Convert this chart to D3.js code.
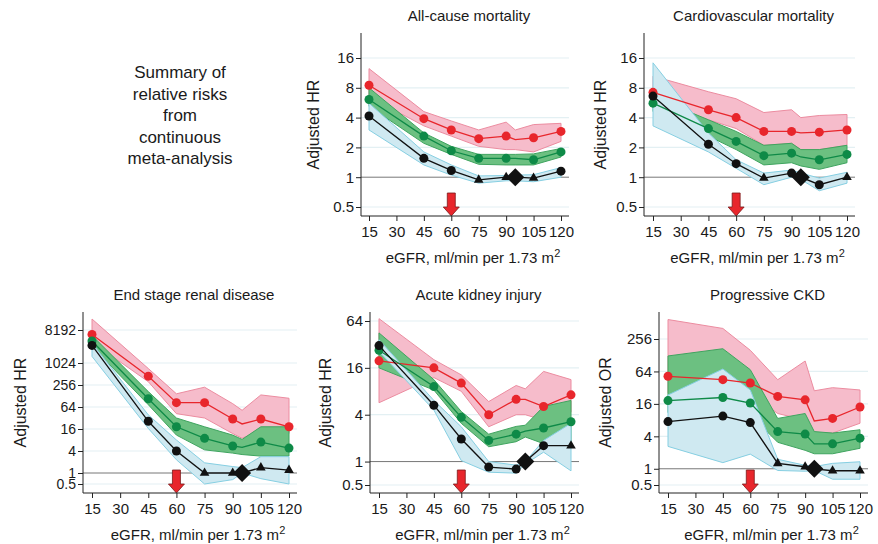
<!DOCTYPE html>
<html><head><meta charset="utf-8">
<script src="https://cdn.jsdelivr.net/npm/d3@7"></script>
<style>body{margin:0;background:#fff}text{font-family:"Liberation Sans",Arial,sans-serif;fill:#1a1a1a}</style>
</head><body><svg id="c" width="878" height="544"></svg>
<script>
// eGFR categories (95 = reference, drawn as diamond)
var egfr = [15, 45, 60, 75, 90, 95, 105, 120];
var xTicks = [15, 30, 45, 60, 75, 90, 105, 120];
var titles = ["All-cause mortality", "Cardiovascular mortality", "End stage renal disease", "Acute kidney injury", "Progressive CKD"];
var yLabels = ["Adjusted HR", "Adjusted HR", "Adjusted HR", "Adjusted HR", "Adjusted OR"];
var yTicks = [[0.5,1,2,4,8,16],[0.5,1,2,4,8,16],[0.5,1,4,16,64,256,1024,8192],[0.5,1,4,16,64],[0.5,1,4,16,64,256]];

// red series (estimate, upper, lower)
var red = [[8.5,3.9,3.0,2.45,2.6,2.4,2.5,2.9],[7.2,4.8,4.0,2.9,2.9,2.8,2.85,3.0],[6208,446,84,84,30,22,30,18.4],[19.7,16,10.2,4,6.3,6.3,5.1,7.2],[52,45,39,22,19,7.7,8.6,14]];
var redHi = [[12.5,4.6,3.7,3.0,3.6,3.0,3.4,3.5],[10.5,7.3,6.2,4.5,4.8,4.0,4.2,4.3],[16384,724,147,223,79,52,137,111],[68.6,20.4,13,5.9,9.5,8.6,14.4,11.3],[588,402,158,45,100,28,32,29]];
var redLo = [[6.5,3.3,2.6,2.05,1.9,1.9,1.8,2.3],[5.0,3.8,3.1,2.1,2.2,1.9,1.9,2.1],[3822,315,42,32,12,8.9,15,12],[5.7,12,8,2.8,4,4,3.4,4.3],[25,29,25,10.6,8,4.6,4.6,7]];
// green series
var green = [[6.1,2.6,1.85,1.55,1.55,1.55,1.5,1.8],[5.6,3.1,2.3,1.65,1.75,1.6,1.5,1.7],[4096,108,18.4,8.9,5.5,5.0,7.0,4.8],[26.9,9.2,3.7,1.87,2.25,2.46,2.7,3.25],[18.4,21,16.6,4.9,4.4,2.9,2.9,3.7]];
var greenHi = [[8,2.8,2.05,1.7,1.7,1.7,1.72,1.95],[6.5,3.8,2.9,2.1,2.2,1.9,1.9,2.1],[5793,169,32,18.4,10.9,8.3,18.4,18.4],[45,11.3,4.4,2.25,2.83,2.93,5.1,6.1],[124,169,69,8.6,10.6,4.9,4.6,5.3]];
var greenLo = [[5.2,2.2,1.7,1.35,1.33,1.33,1.33,1.6],[4.6,2.6,1.9,1.33,1.4,1.3,1.2,1.4],[2896,74,10.9,4.3,3.5,3.2,2.9,2.9],[16,8.3,3.1,1.55,1.8,2.07,1.7,1.67],[11,12,10,3.1,2.2,1.9,1.9,2.4]];
// black series
var black = [[4.15,1.55,1.17,0.94,1.0,1,0.98,1.15],[6.6,2.15,1.37,0.98,1.1,1,0.84,1.0],[3104,26,4.0,1.0,1.0,1,1.4,1.2],[30.9,5.3,1.95,0.85,0.8,1,1.6,1.6],[7.5,9.5,7.2,1.26,1.09,1,0.92,0.92]];
var blueHi = [[5.6,1.8,1.33,1.03,1.04,1.05,1.06,1.25],[14.3,2.8,1.5,1.1,1.18,1.1,0.98,1.12],[3565,39,8,1.9,1.5,1.4,2.8,2.8],[36.8,6.1,2.8,1.0,0.9,1.0,1.87,3.1],[23.4,71,29,1.5,1.16,1.1,1.26,1.35]];
var blueLo = [[3.0,1.33,1.05,0.87,0.92,0.92,0.9,1.0],[3.3,1.8,1.23,0.84,1.0,0.95,0.73,0.87],[1552,16.6,2.3,0.5,0.66,1.0,0.7,0.5],[26,4.6,1.03,0.73,0.71,0.93,1.32,0.76],[2.6,1.3,1.87,0.93,0.9,0.93,0.64,0.64]];
var triangles = [[75,90,105],[75,120],[75,90,105,120],[120],[75,90,105,120]];

// panel geometry: axis x, x(15), x(120), top, bottom, [tick lo, px], [tick hi, px], ylabel x
var panels = [
  {ax:361, x0:369, x1:561, top:33, bot:216, lo:[0.5,207], hi:[16,58], yl:313},
  {ax:644, x0:653, x1:847, top:33, bot:216, lo:[0.5,207], hi:[16,58], yl:600},
  {ax:83, x0:92, x1:289, top:312, bot:493, lo:[0.5,484], hi:[8192,330], yl:20},
  {ax:370, x0:379, x1:571, top:312, bot:493, lo:[0.5,485], hi:[64,321], yl:325},
  {ax:659, x0:668, x1:860, top:312, bot:493, lo:[0.5,485], hi:[256,339], yl:605}
];

var svg = d3.select("#c");

var note = ["Summary of", "relative risks", "from", "continuous", "meta-analysis"];
svg.append("text").attr("text-anchor","middle").attr("font-size",17)
  .selectAll("tspan").data(note).join("tspan")
  .attr("x",180).attr("y",function(d,i){return 78+i*21.5}).text(function(d){return d});

panels.forEach(function(p, k) {
  var g = svg.append("g");
  var x = d3.scaleLinear().domain([15,120]).range([p.x0,p.x1]);
  var y = d3.scaleLog().base(2).domain([p.lo[0],p.hi[0]]).range([p.lo[1],p.hi[1]]);
  var right = p.x1 + 8;

  // grid
  g.selectAll(".grid").data(yTicks[k]).join("line")
    .attr("x1",p.ax).attr("x2",right).attr("y1",function(d){return y(d)}).attr("y2",function(d){return y(d)})
    .attr("stroke",function(d){return d===1 ? "#777" : "#e3f0f3"}).attr("stroke-width",function(d){return d===1?1:1.2});

  function band(hi, lo, fill, stroke) {
    var a = d3.area().x(function(d,i){return x(egfr[i])}).y0(function(d,i){return y(lo[i])}).y1(function(d){return y(d)});
    g.append("path").datum(hi).attr("d",a).attr("fill",fill).attr("stroke",stroke).attr("stroke-width",1);
  }
  band(redHi[k], redLo[k], "#f6bccb", "#ec8ca0");
  band(greenHi[k], greenLo[k], "#6cc081", "#3fa45f");
  band(blueHi[k], blueLo[k], "#cfe9f1", "#86cfe2");

  var line = d3.line().x(function(d,i){return x(egfr[i])}).y(function(d){return y(d)});
  function series(vals, col, isBlack) {
    g.append("path").datum(vals).attr("d",line).attr("fill","none").attr("stroke",col).attr("stroke-width",1.3);
    vals.forEach(function(v,i){
      var e = egfr[i];
      if (e === 95) return;
      if (isBlack && triangles[k].indexOf(e) >= 0) {
        g.append("path").attr("d",d3.symbol(d3.symbolTriangle,40)()).attr("transform","translate("+x(e)+","+y(v)+")").attr("fill",col);
      } else {
        g.append("circle").attr("cx",x(e)).attr("cy",y(v)).attr("r",4.5).attr("fill",col);
      }
    });
  }
  series(red[k], "#e8262c", false);
  series(green[k], "#0e8a47", false);
  series(black[k], "#111", true);
  g.append("path").attr("d","M0,-9L9,0L0,9L-9,0Z").attr("transform","translate("+x(95)+","+y(1)+")").attr("fill","#111");

  // arrow at 60
  var ax60 = x(60), b = p.bot;
  g.append("path").attr("d","M"+(ax60-4)+","+(b-23)+"h8v14h4l-8,9l-8,-9h4z")
    .attr("fill","#e8262c").attr("stroke","#7a1a1a").attr("stroke-width",0.8);

  // axes
  var fs = k === 2 ? 14 : 15;
  var yAxis = d3.axisLeft(y).tickValues(yTicks[k]).tickFormat(function(d){return d}).tickSize(5).tickSizeOuter(0);
  var ya = g.append("g").attr("transform","translate("+p.ax+",0)").call(yAxis);
  ya.select(".domain").attr("d","M0,"+p.top+"V"+p.bot);
  var xAxis = d3.axisBottom(x).tickValues(xTicks).tickSize(5).tickSizeOuter(0);
  var xa = g.append("g").attr("transform","translate(0,"+p.bot+")").call(xAxis);
  xa.select(".domain").attr("d","M"+p.ax+",0H"+right);
  g.selectAll(".tick text").attr("font-size",15).attr("fill","#1a1a1a").attr("font-family","Liberation Sans, Arial, sans-serif");
  ya.selectAll(".tick text").attr("x",-7).attr("font-size",fs);
  xa.selectAll(".tick text").attr("y",10);
  g.selectAll(".domain, .tick line").attr("stroke","#222");

  var cx = (p.ax + right)/2;
  g.append("text").attr("x",cx+4).attr("y",p.top-12).attr("text-anchor","middle").attr("font-size",15).text(titles[k]);
  var xl = g.append("text").attr("x",cx+8).attr("y",p.bot+47).attr("text-anchor","middle").attr("font-size",15);
  xl.append("tspan").text("eGFR, ml/min per 1.73 m");
  xl.append("tspan").attr("dy",-6).attr("font-size",11).text("2");
  g.append("text").attr("transform","translate("+p.yl+","+((p.top+p.bot)/2)+") rotate(-90)")
    .attr("text-anchor","middle").attr("dy","0.35em").attr("font-size",16).text(yLabels[k]);
});
</script></body></html>
